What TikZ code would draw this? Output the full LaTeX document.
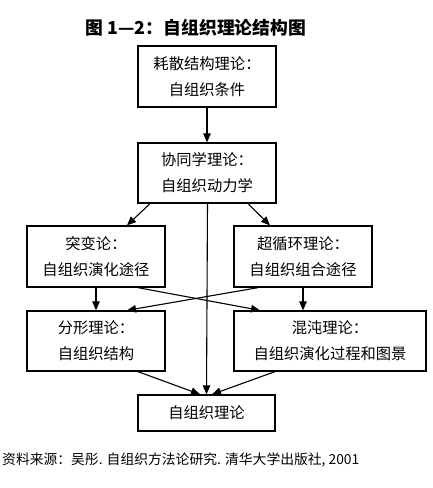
\documentclass[tikz,border=0pt]{standalone}
\usepackage{fontspec}
\setmainfont{Noto Sans CJK SC}
\usetikzlibrary{arrows.meta}
\tikzset{
  box/.style={draw, line width=1.3pt, align=center, inner sep=0pt,
    font=\fontsize{15.3}{26}\selectfont},
  arr/.style={line width=1.1pt, -{Triangle[length=9pt,width=7.5pt]}},
}
\begin{document}
\begin{tikzpicture}[x=1pt,y=-1pt]
\useasboundingbox (0,0) rectangle (432,488);
\node[font=\bfseries\fontsize{17.8}{20}\selectfont] (title) at (196,28) {图 1—2：自组织理论结构图};
\node[box, minimum width=138pt, minimum height=61pt] (b1) at (207,76.5) {耗散结构理论：\\自组织条件};
\node[box, minimum width=138pt, minimum height=60pt] (b2) at (207,173) {协同学理论：\\自组织动力学};
\node[box, minimum width=138pt, minimum height=61pt] (b3) at (96,256.5) {突变论：\\自组织演化途径};
\node[box, minimum width=138pt, minimum height=61pt] (b4) at (303,256.5) {超循环理论：\\自组织组合途径};
\node[box, minimum width=138pt, minimum height=60pt] (b5) at (96,341) {分形理论：\\自组织结构};
\node[box, minimum width=192pt, minimum height=60pt] (b6) at (330,341) {混沌理论：\\自组织演化过程和图景};
\node[box, minimum width=137pt, minimum height=36pt] (b7) at (206.5,413) {自组织理论};
\node[anchor=west, inner sep=0pt, font=\fontsize{13.8}{16}\selectfont] (src) at (2,460) {资料来源：吴彤. 自组织方法论研究. 清华大学出版社, 2001};
\draw[arr] (b1.south) -- (b2.north);
\draw[arr] ([xshift=-57pt]b2.south) -- ([xshift=31pt]b3.north);
\draw[arr] ([xshift=41pt]b2.south) -- ([xshift=-33pt]b4.north);
\draw[arr] ([xshift=0.5pt]b2.south) -- (b7.north);
\draw[arr] (b3.south) -- (b5.north);
\draw[arr] (b4.south) -- (b4.south |- b6.north);
\draw[arr] ([xshift=42pt]b3.south) -- ([xshift=-70pt]b6.north);
\draw[arr] ([xshift=-45pt]b4.south) -- ([xshift=31pt]b5.north);
\draw[arr] ([xshift=42pt]b5.south) -- ([xshift=-6.5pt]b7.north);
\draw[arr] ([xshift=-55pt]b6.south) -- ([xshift=5.5pt]b7.north);
\end{tikzpicture}
\end{document}
